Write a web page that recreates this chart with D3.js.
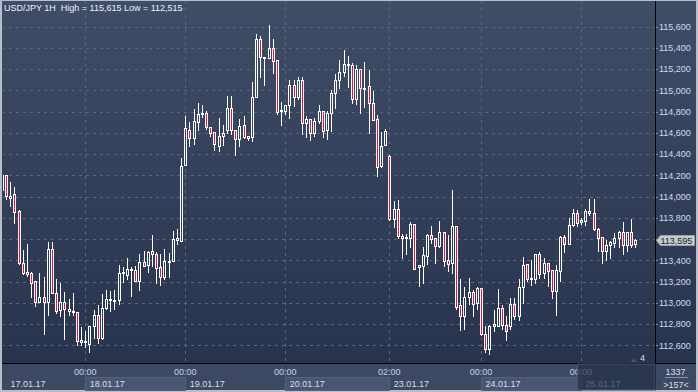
<!DOCTYPE html>
<html>
<head>
<meta charset="utf-8">
<script src="https://cdn.jsdelivr.net/npm/d3@7"></script>
<style>
  body { margin: 0; background: #b8bec9; }
  svg { display: block; font-family: "Liberation Sans", Arial, sans-serif; }
</style>
</head>
<body>
<div id="container"></div>
<script>
/* CONSTANTS AND GLOBALS */
const width = 698,
  height = 392,
  plot = { left: 2, right: 655, top: 1, bottom: 363 },
  axisRight = 696,
  frameBottom = 390;

/* DATA (USD/JPY hourly bars, bar index counted from 17.01.17 00:00) */
const firstBar = 4;
const open = [
  114060, 114200, 113990, 114025, 113860, 113375, 113270, 113280, 113205, 113010,
  113055, 113010, 113505, 113095, 112935, 113005, 112920, 112920, 112915, 112635,
  112645, 112610, 112780, 112890, 112670, 112950, 113025, 113030, 113025, 113280,
  113265, 113310, 113310, 113210, 113380, 113355, 113485, 113460, 113335, 113240,
  113390, 113390, 113610, 113585, 114295, 114625, 114555, 114705, 114780, 114790,
  114655, 114610, 114475, 114570, 114625, 114830, 114625, 114545, 114675, 114575,
  114565, 114940, 115485, 115315, 115305, 115400, 115285, 114815, 114805, 114860,
  115055, 114935, 115100, 114695, 114730, 114600, 114715, 114810, 114625, 114785,
  114975, 115095, 115170, 115250, 115240, 114915, 115200, 115025, 115040, 114885,
  114735, 114285, 114490, 114380, 113785, 113885, 113625, 113610, 113615, 113745,
  113340, 113345, 113440, 113635, 113610, 113535, 113670, 113400, 113375, 113725,
  112975, 112880, 113055, 113100, 112995, 113140, 112710, 112565, 112800, 112785,
  112950, 112795, 112780, 112985, 112880, 113150, 113370, 113220, 113225, 113455,
  113280, 113375, 113305, 113110, 113300, 113620, 113555, 113735, 113850, 113765,
  113775, 113850, 113850, 113695, 113620, 113485, 113540, 113565, 113610, 113665,
  113540, 113665, 113555
];
const high = [
  114210, 114200, 114135, 114090, 113870, 113495, 113555, 113290, 113210, 113280,
  113245, 113570, 113570, 113225, 113185, 113105, 113035, 113090, 112915, 112775,
  112735, 112780, 112935, 112980, 113080, 113120, 113115, 113125, 113355, 113340,
  113425, 113340, 113350, 113455, 113485, 113490, 113635, 113475, 113455, 113510,
  113470, 113675, 113695, 114365, 114755, 114700, 114825, 114885, 114865, 114810,
  114655, 114610, 114740, 114675, 114950, 114950, 114625, 114735, 114760, 114575,
  115080, 115530, 115510, 115315, 115615, 115480, 115285, 114890, 114865, 115100,
  115100, 115130, 115130, 114760, 114730, 114745, 114865, 114810, 114810, 115005,
  115155, 115290, 115385, 115320, 115255, 115240, 115200, 115270, 115195, 114990,
  114770, 114605, 114635, 114390, 113955, 113965, 113650, 113645, 113760, 113745,
  113355, 113530, 113650, 113720, 113610, 113775, 113670, 113635, 114060, 113725,
  113220, 113145, 113230, 113125, 113145, 113140, 112780, 112790, 112935, 113130,
  112975, 112875, 113045, 113045, 113225, 113435, 113370, 113405, 113455, 113475,
  113420, 113375, 113305, 113360, 113625, 113640, 113795, 113880, 113875, 113795,
  113880, 113975, 113975, 113705, 113620, 113595, 113580, 113655, 113680, 113765,
  113665, 113790, 113600
];
const low = [
  114050, 113980, 113915, 113750, 113370, 113270, 113255, 113055, 112970, 113010,
  112710, 112885, 113090, 112900, 112875, 112655, 112885, 112885, 112605, 112605,
  112580, 112540, 112670, 112625, 112660, 112945, 112925, 112945, 112985, 113195,
  113220, 113060, 113205, 113125, 113345, 113290, 113350, 113190, 113170, 113220,
  113240, 113390, 113555, 113585, 114295, 114480, 114500, 114625, 114750, 114635,
  114570, 114440, 114430, 114490, 114600, 114585, 114395, 114480, 114555, 114530,
  114525, 114940, 115130, 115055, 115305, 115165, 114775, 114670, 114775, 114745,
  114855, 114915, 114585, 114565, 114530, 114575, 114695, 114565, 114545, 114620,
  114830, 115025, 115135, 115035, 114885, 114870, 114785, 114845, 114595, 114720,
  114190, 114280, 114490, 113780, 113715, 113610, 113425, 113460, 113525, 113315,
  113155, 113190, 113365, 113565, 113375, 113530, 113345, 113300, 113280, 112945,
  112745, 112755, 112990, 112880, 112945, 112695, 112540, 112515, 112735, 112780,
  112750, 112650, 112750, 112850, 112835, 113000, 113210, 113170, 113185, 113235,
  113235, 113155, 113045, 112890, 113205, 113475, 113550, 113725, 113725, 113745,
  113735, 113830, 113690, 113485, 113375, 113405, 113420, 113530, 113525, 113455,
  113485, 113530, 113530
];
const close = [
  114200, 114010, 114010, 113855, 113375, 113285, 113290, 113190, 113010, 113055,
  113010, 113505, 113095, 112925, 113005, 112940, 112940, 112910, 112640, 112650,
  112630, 112780, 112885, 112670, 112955, 113035, 113035, 113020, 113280, 113290,
  113320, 113320, 113210, 113380, 113345, 113480, 113460, 113330, 113240, 113390,
  113385, 113600, 113595, 114290, 114650, 114555, 114710, 114780, 114790, 114655,
  114600, 114500, 114570, 114600, 114830, 114625, 114545, 114665, 114565, 114555,
  114940, 115485, 115315, 115305, 115400, 115275, 114795, 114805, 114865, 115055,
  114935, 115100, 114695, 114730, 114595, 114710, 114810, 114620, 114785, 114975,
  115100, 115170, 115250, 115235, 114915, 115200, 115020, 115015, 114880, 114725,
  114280, 114480, 114615, 113785, 113885, 113625, 113610, 113620, 113740, 113320,
  113355, 113450, 113635, 113605, 113535, 113670, 113395, 113370, 113725, 112960,
  112880, 113055, 113100, 112990, 113140, 112705, 112565, 112785, 112785, 112950,
  112795, 112735, 112985, 112880, 113150, 113360, 113220, 113230, 113455, 113270,
  113375, 113295, 113110, 113305, 113620, 113555, 113735, 113850, 113755, 113780,
  113860, 113865, 113695, 113610, 113485, 113540, 113570, 113610, 113665, 113540,
  113665, 113545, 113595
];

const priceTicks = d3.range(112600, 115601, 200);
const timeTickBars = [24, 48, 72, 97, 119, 143];
const timeTickLabels = ["00:00", "00:00", "00:00", "02:00", "00:00", "00:00"];
const dateStartBars = [5, 24, 48, 72, 97, 119, 143];
const dateLabels = ["17.01.17", "18.01.17", "19.01.17", "20.01.17", "23.01.17", "24.01.17", "25.01.17"];
const lastPrice = 113595;
const titleText = "USD/JPY 1H  High = 115,615 Low = 112,515";

/* SCALES */
const xScale = d3.scaleLinear()
  .domain([0, 24])
  .range([-14.8, 85.2]);

const yScale = d3.scaleLinear()
  .domain([112600, 115600])
  .range([345.3, 26.7]);

const bars = open.map((o, k) => ({
  bar: firstBar + k, open: o, high: high[k], low: low[k], close: close[k]
}));

/* HTML ELEMENTS */
const svg = d3.select("#container")
  .append("svg")
  .attr("width", width)
  .attr("height", height);

const defs = svg.append("defs");
const grad = defs.append("linearGradient")
  .attr("id", "bg")
  .attr("gradientUnits", "userSpaceOnUse")
  .attr("x1", 0).attr("y1", 0).attr("x2", 0).attr("y2", plot.bottom);
grad.append("stop").attr("offset", "0%").attr("stop-color", "#404d67");
grad.append("stop").attr("offset", "100%").attr("stop-color", "#28334d");

defs.append("clipPath").attr("id", "plotClip")
  .append("rect")
  .attr("x", plot.left + 1).attr("y", plot.top)
  .attr("width", plot.right - plot.left - 1).attr("height", plot.bottom - plot.top);

// frame + backgrounds
svg.append("rect")
  .attr("x", 0).attr("y", 0).attr("width", width).attr("height", height)
  .attr("fill", "#b8bec9");
svg.append("rect")
  .attr("x", plot.left).attr("y", plot.top)
  .attr("width", axisRight - plot.left).attr("height", plot.bottom - plot.top)
  .attr("fill", "url(#bg)");
svg.append("rect")
  .attr("x", plot.left).attr("y", plot.bottom)
  .attr("width", axisRight - plot.left).attr("height", frameBottom - plot.bottom)
  .attr("fill", "#3d4963");

// grid
const grid = svg.append("g").attr("clip-path", "url(#plotClip)");
grid.selectAll("line.h")
  .data(priceTicks)
  .join("line")
  .attr("class", "h")
  .attr("x1", plot.left).attr("x2", plot.right)
  .attr("y1", d => Math.round(yScale(d)) + 0.5)
  .attr("y2", d => Math.round(yScale(d)) + 0.5)
  .attr("stroke", "#5a6681")
  .attr("stroke-dasharray", "3,4");
grid.selectAll("line.v")
  .data(timeTickBars)
  .join("line")
  .attr("class", "v")
  .attr("x1", d => Math.round(xScale(d)) + 0.5)
  .attr("x2", d => Math.round(xScale(d)) + 0.5)
  .attr("y1", plot.top).attr("y2", plot.bottom)
  .attr("stroke", "#5a6681")
  .attr("stroke-dasharray", "3,4");

// candles
const candles = svg.append("g").attr("clip-path", "url(#plotClip)")
  .selectAll("g")
  .data(bars)
  .join("g")
  .attr("transform", d => `translate(${Math.round(xScale(d.bar))},0)`);

candles.append("line")
  .attr("x1", 0.5).attr("x2", 0.5)
  .attr("y1", d => Math.round(yScale(d.high)))
  .attr("y2", d => Math.round(yScale(d.low)) + 1)
  .attr("stroke", "#ffffff");

const bodyTop = d => Math.round(yScale(Math.max(d.open, d.close)));
const bodyH = d => Math.max(2, Math.round(yScale(Math.min(d.open, d.close))) - bodyTop(d) + 1);

candles.append("rect")
  .attr("x", -1).attr("width", 3)
  .attr("y", bodyTop)
  .attr("height", bodyH)
  .attr("fill", "#ffffff");

candles.filter(d => bodyH(d) > 2)
  .append("rect")
  .attr("x", 0).attr("width", 1)
  .attr("y", d => bodyTop(d) + 1)
  .attr("height", d => bodyH(d) - 2)
  .attr("fill", d => d.close < d.open ? "#e0143c" : "url(#bg)");

// separators
svg.append("line")
  .attr("x1", plot.right + 0.5).attr("x2", plot.right + 0.5)
  .attr("y1", plot.top).attr("y2", frameBottom)
  .attr("stroke", "#000");
svg.append("line")
  .attr("x1", plot.left).attr("x2", axisRight)
  .attr("y1", plot.bottom + 0.5).attr("y2", plot.bottom + 0.5)
  .attr("stroke", "#000");

// right axis
const yAxisG = svg.append("g");
yAxisG.selectAll("line")
  .data(priceTicks)
  .join("line")
  .attr("x1", plot.right + 1).attr("x2", plot.right + 3)
  .attr("y1", d => Math.round(yScale(d)) + 0.5)
  .attr("y2", d => Math.round(yScale(d)) + 0.5)
  .attr("stroke", "#6d8fcf");
yAxisG.selectAll("text")
  .data(priceTicks)
  .join("text")
  .attr("x", 659)
  .attr("y", d => yScale(d) + 3.3)
  .attr("font-size", 9)
  .attr("fill", "#cddcf5")
  .text(d => d3.format(",")(d));

// last price marker
const py = Math.round(yScale(lastPrice)) + 0.5;
svg.append("path")
  .attr("d", `M656.5,${py} L660.5,${py - 5} L694.5,${py - 5} L694.5,${py + 5} L660.5,${py + 5} Z`)
  .attr("fill", "#c7cace")
  .attr("stroke", "#9aa1ab");
svg.append("text")
  .attr("x", 660.5).attr("y", py + 3.3)
  .attr("font-size", 9)
  .attr("fill", "#1c2230")
  .text(d3.format(",")(lastPrice));

// bottom axis: date boxes
const dateX = k => k === 0 ? plot.left : Math.round(xScale(dateStartBars[k])) + 0.5;
const dateEnd = k => k === dateStartBars.length - 1 ? plot.right : Math.round(xScale(dateStartBars[k + 1])) + 0.5;
svg.append("g").selectAll("rect")
  .data(dateLabels.map((d, k) => k).filter(k => k % 2 === 1))
  .join("rect")
  .attr("x", k => dateX(k))
  .attr("y", 377.5)
  .attr("width", k => dateEnd(k) - dateX(k))
  .attr("height", 13)
  .attr("fill", "#4a5670")
  .attr("stroke", "#56627c");

svg.append("g").selectAll("text")
  .data(dateLabels)
  .join("text")
  .attr("x", (d, k) => xScale(dateStartBars[k]) + 4.5)
  .attr("y", 386.5)
  .attr("font-size", 9)
  .attr("fill", "#d6def0")
  .text(d => d);

svg.append("g").selectAll("text")
  .data(timeTickLabels)
  .join("text")
  .attr("x", (d, k) => xScale(timeTickBars[k]))
  .attr("y", 375)
  .attr("text-anchor", "middle")
  .attr("font-size", 9)
  .attr("fill", "#c3d3f0")
  .text(d => d);

// current-day overlay
svg.append("rect")
  .attr("x", 577.5).attr("y", plot.bottom + 1)
  .attr("width", plot.right - 577.5).attr("height", frameBottom - plot.bottom - 1)
  .attr("fill", "#242f47")
  .attr("fill-opacity", 0.7)
  .attr("stroke", "#4a5670");

// bar count box
svg.append("text")
  .attr("x", 675.5).attr("y", 374.5)
  .attr("text-anchor", "middle")
  .attr("font-size", 9)
  .attr("fill", "#d6def0")
  .text("1337");
svg.append("line")
  .attr("x1", 665).attr("x2", 688)
  .attr("y1", 377.5).attr("y2", 377.5)
  .attr("stroke", "#8a93a5");
svg.append("text")
  .attr("x", 676).attr("y", 387.5)
  .attr("text-anchor", "middle")
  .attr("font-size", 9)
  .attr("fill", "#d6def0")
  .text(">157<");

// scroll marker
svg.append("path")
  .attr("d", "M630.5,362 L634,358.5 L637.5,362 Z")
  .attr("fill", "#4b5468");
svg.append("text")
  .attr("x", 640).attr("y", 361)
  .attr("font-size", 9)
  .attr("fill", "#d6def0")
  .text("4");

// title
svg.append("text")
  .attr("x", 4).attr("y", 11)
  .attr("font-size", 9)
  .attr("fill", "#eef1f7")
  .attr("xml:space", "preserve")
  .style("white-space", "pre")
  .text(titleText);
</script>
</body>
</html>
